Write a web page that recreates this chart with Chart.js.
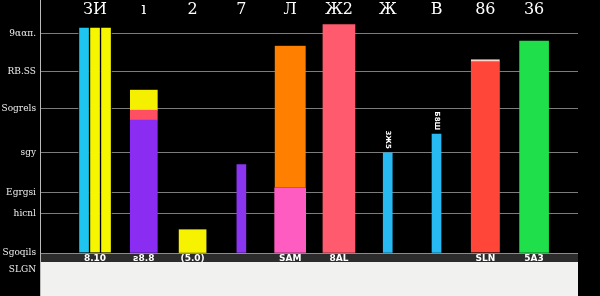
<!DOCTYPE html>
<html>
<head>
<meta charset="utf-8">
<script src="https://cdn.jsdelivr.net/npm/chart.js@4"></script>
<style>
  body { margin: 0; background: #000; }
  canvas { display: block; }
</style>
</head>
<body>
<canvas id="barChart" width="600" height="296"></canvas>

<script>
var topLabels = ["ЗИ", "ı", "2", "7", "Л", "Ж2", "Ж", "B", "86", "36"];
var bottomLabels = ["8.10", "ƨ8.8", "(5.0)", "", "SAM", "8AL", "", "", "SLN", "5A3"];
var yTickValues = [0, 17, 26, 43, 62, 78, 94];
var yTickLabels = ["Sgoqils", "hicnl", "Egrgsi", "sgy", "Sogrels", "RB.SS", "9ααπ."];
var extraYLabel = "SLGN";

// series values per group (null = no bar in that group)
var cyanWide   = [97, null, null, null, null, null, null, null, null, null];
var yellowA    = [97, null, null, null, null, null, null, null, null, null];
var yellowB    = [97, null, null, null, null, null, null, null, null, null];
var purpleBase = [null, 57, null, null, null, null, null, null, null, null];
var redBand    = [null, 4.3, null, null, null, null, null, null, null, null];
var yellowCap  = [null, 8.6, null, null, null, null, null, null, null, null];
var yellowLow  = [null, null, 10, null, null, null, null, null, null, null];
var purpleThin = [null, null, null, 38, null, null, null, null, null, null];
var pinkBase   = [null, null, null, null, 28, null, null, null, null, null];
var orangeTop  = [null, null, null, null, 61, null, null, null, null, null];
var redTall    = [null, null, null, null, null, 98, null, null, null, null];
var cyanThin   = [null, null, null, null, null, null, 43, 51, null, null];
var redMid     = [null, null, null, null, null, null, null, null, 83, null];
var greenTall  = [null, null, null, null, null, null, null, null, null, 91];
var barNotes   = [null, null, null, null, null, null, "3Ж5", "Б8Ш", null, null];

function pts(arr) {
    return arr.map(function (v, i) { return { x: i, y: v }; });
}

function ds(arr, color, thickness, stack, extra) {
    var d = {
        data: pts(arr),
        backgroundColor: color,
        barThickness: thickness,
        stack: stack,
        borderWidth: 0
    };
    for (var k in extra || {}) d[k] = extra[k];
    return d;
}

var datasets = [
    ds(cyanWide, "#1ec6ef", 11, "a", { borderColor: "#000", borderWidth: 1 }),
    ds(yellowA, "#f6f600", 11, "b", { borderColor: "#000", borderWidth: 1 }),
    ds(yellowB, "#f6f600", 11, "c", { borderColor: "#000", borderWidth: 1 }),
    ds(purpleBase, "#8b2cf2", 27, "d"),
    ds(redBand, "#ff4f62", 27, "d"),
    ds(yellowCap, "#f4f000", 27, "d"),
    ds(yellowLow, "#f6f200", 27, "e"),
    ds(purpleThin, "#8a35f0", 9, "f"),
    ds(pinkBase, "#ff5cc2", 31, "g"),
    ds(orangeTop, "#ff7f00", 31, "g", { borderColor: "#c81e3c", borderWidth: { bottom: 1 }, borderSkipped: false }),
    ds(redTall, "#ff5a6e", 32, "h"),
    ds(cyanThin, "#27baf2", 9, "i"),
    ds(redMid, "#ff4638", 29, "j", { borderColor: "#ffd6cc", borderWidth: { top: 2 }, borderSkipped: "bottom" }),
    ds(greenTall, "#1fe04a", 29, "k")
];

var backdrop = {
    id: "backdrop",
    beforeDraw: function (chart) {
        var c = chart.ctx, a = chart.chartArea, xb = chart.scales.x;
        c.save();
        c.fillStyle = "#000";
        c.fillRect(0, 0, chart.width, chart.height);
        c.fillStyle = "#2c2c2c";
        c.fillRect(a.left, a.bottom, a.right - a.left, xb.bottom - a.bottom);
        c.fillStyle = "#f1f2ef";
        c.fillRect(a.left, xb.bottom, a.right - a.left, chart.height - xb.bottom);
        c.strokeStyle = "#bbb";
        c.lineWidth = 1;
        c.beginPath();
        c.moveTo(a.left + 0.5, 0);
        c.lineTo(a.left + 0.5, chart.height);
        c.stroke();
        c.fillStyle = "#eee";
        c.font = "9px 'DejaVu Serif'";
        c.textAlign = "right";
        c.textBaseline = "middle";
        c.fillText(extraYLabel, a.left - 4, xb.bottom + 8);
        c.restore();
    },
    afterDatasetsDraw: function (chart) {
        var c = chart.ctx;
        var meta = chart.getDatasetMeta(11);
        c.save();
        c.fillStyle = "#fff";
        c.font = "bold 7px 'DejaVu Sans'";
        c.textAlign = "right";
        c.textBaseline = "middle";
        meta.data.forEach(function (bar, i) {
            if (!barNotes[i] || cyanThin[i] === null) return;
            c.save();
            c.translate(bar.x, bar.y - 4);
            c.rotate(Math.PI / 2);
            c.fillText(barNotes[i], 0, 0);
            c.restore();
        });
        c.restore();
    }
};

function labelAt(list) {
    return function (value) {
        var i = Math.round(value);
        if (Math.abs(value - i) > 0.01 || i < 0 || i >= list.length) return "";
        return list[i];
    };
}

new Chart(document.getElementById("barChart").getContext("2d"), {
    type: "bar",
    data: { datasets: datasets },
    plugins: [backdrop],
    options: {
        responsive: false,
        animation: false,
        skipNull: true,
        layout: { padding: { top: 0, right: 22, bottom: 34, left: 0 } },
        plugins: { legend: { display: false }, tooltip: { enabled: false } },
        scales: {
            x: {
                type: "linear",
                position: "bottom",
                offset: false,
                min: -1.128,
                max: 9.9,
                grid: { display: false, drawTicks: false },
                border: { display: false },
                afterFit: function (s) { s.height = 9; },
                ticks: {
                    stepSize: 1,
                    autoSkip: false,
                    maxRotation: 0,
                    padding: 0,
                    color: "#fff",
                    font: { family: "'DejaVu Sans'", size: 9, weight: "bold" },
                    callback: labelAt(bottomLabels)
                }
            },
            x2: {
                type: "linear",
                position: "top",
                offset: false,
                min: -1.128,
                max: 9.9,
                grid: { display: false, drawTicks: false },
                border: { display: false },
                afterFit: function (s) { s.height = 20; },
                ticks: {
                    stepSize: 1,
                    autoSkip: false,
                    maxRotation: 0,
                    padding: 1,
                    color: "#fff",
                    font: { family: "'DejaVu Serif'", size: 16 },
                    callback: labelAt(topLabels)
                }
            },
            y: {
                stacked: true,
                min: 0,
                max: 100,
                border: { display: false },
                grid: { color: "rgba(190,190,190,0.65)", lineWidth: 1, drawTicks: false },
                afterFit: function (s) { s.width = 40; },
                afterBuildTicks: function (s) {
                    s.ticks = yTickValues.map(function (v) { return { value: v }; });
                },
                ticks: {
                    padding: 4,
                    color: "#eee",
                    font: { family: "'DejaVu Serif'", size: 9 },
                    callback: function (value, index) { return yTickLabels[index]; }
                }
            }
        }
    }
});
</script>
</body>
</html>
